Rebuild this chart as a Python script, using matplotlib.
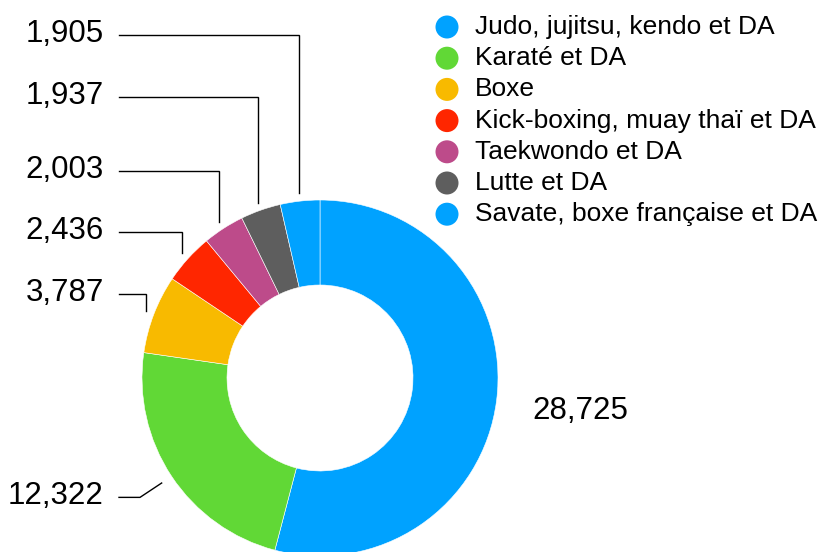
import numpy as np
import matplotlib
matplotlib.use("Agg")
import matplotlib.pyplot as plt
from matplotlib.patches import Circle

categories = ["Judo, jujitsu, kendo et DA", "Karaté et DA", "Boxe",
              "Kick-boxing, muay thaï et DA", "Taekwondo et DA", "Lutte et DA",
              "Savate, boxe française et DA"]
values = [28725, 12322, 3787, 2436, 2003, 1937, 1905]
colors = ["#00A2FF", "#61D836", "#F8BA00", "#FF2600", "#BD4B8A", "#5E5E5E", "#00A2FF"]
value_labels = ["28,725", "12,322", "3,787", "2,436", "2,003", "1,937", "1,905"]

plt.rcParams['font.family'] = ['Liberation Sans', 'DejaVu Sans']

W, H = 826, 552
fig = plt.figure(figsize=(W / 100, H / 100), dpi=100)
ax = fig.add_axes([0, 0, 1, 1])

cx, cy = 320, H - 378
R = 178
Rin = 93
wedges, _ = ax.pie(values, colors=colors, startangle=90, counterclock=False,
                   radius=R, center=(cx, cy), frame=True,
                   wedgeprops=dict(width=R - Rin, edgecolor='white', linewidth=0.4))
ax.set_xlim(0, W)
ax.set_ylim(0, H)
ax.set_aspect('equal')
ax.axis('off')

def img(y):
    return H - y

label_rows = {6: 35, 5: 97, 4: 171, 3: 232, 2: 294}
line_x0 = 119
text_x = 104
fs_lab = 22.5
for i, yrow in label_rows.items():
    w = wedges[i]
    mid = np.deg2rad((w.theta1 + w.theta2) / 2)
    px = cx + 186 * np.cos(mid)
    py = cy + 186 * np.sin(mid)
    ax.plot([px, px, line_x0], [py, img(yrow), img(yrow)], color='black', lw=1.0,
            solid_joinstyle='miter')
    ax.text(text_x, img(yrow) + 1, value_labels[i], ha='right', va='center',
            fontsize=fs_lab, color='black')

w = wedges[1]
mid = np.deg2rad((w.theta1 + w.theta2) / 2)
p1 = (cx + 190 * np.cos(mid), cy + 190 * np.sin(mid))
p2 = (cx + 216 * np.cos(mid), cy + 216 * np.sin(mid))
ax.plot([p1[0], p2[0], line_x0], [p1[1], p2[1], p2[1]], color='black', lw=1.0)
ax.text(text_x, p2[1] + 1, value_labels[1], ha='right', va='center',
        fontsize=fs_lab, color='black')

w = wedges[0]
mid = np.deg2rad((w.theta1 + w.theta2) / 2)
ax.text(cx + 262 * np.cos(mid), cy + 262 * np.sin(mid), value_labels[0],
        ha='center', va='center', fontsize=fs_lab, color='black')

ly0 = 27
ldy = 31.2
for k, (cat, col) in enumerate(zip(categories, colors)):
    y = img(ly0 + k * ldy)
    ax.add_patch(Circle((447, y), 11.5, color=col, lw=0))
    ax.text(475, y, cat, ha='left', va='center', fontsize=19, color='black')

fig.savefig("out.png", dpi=100)
